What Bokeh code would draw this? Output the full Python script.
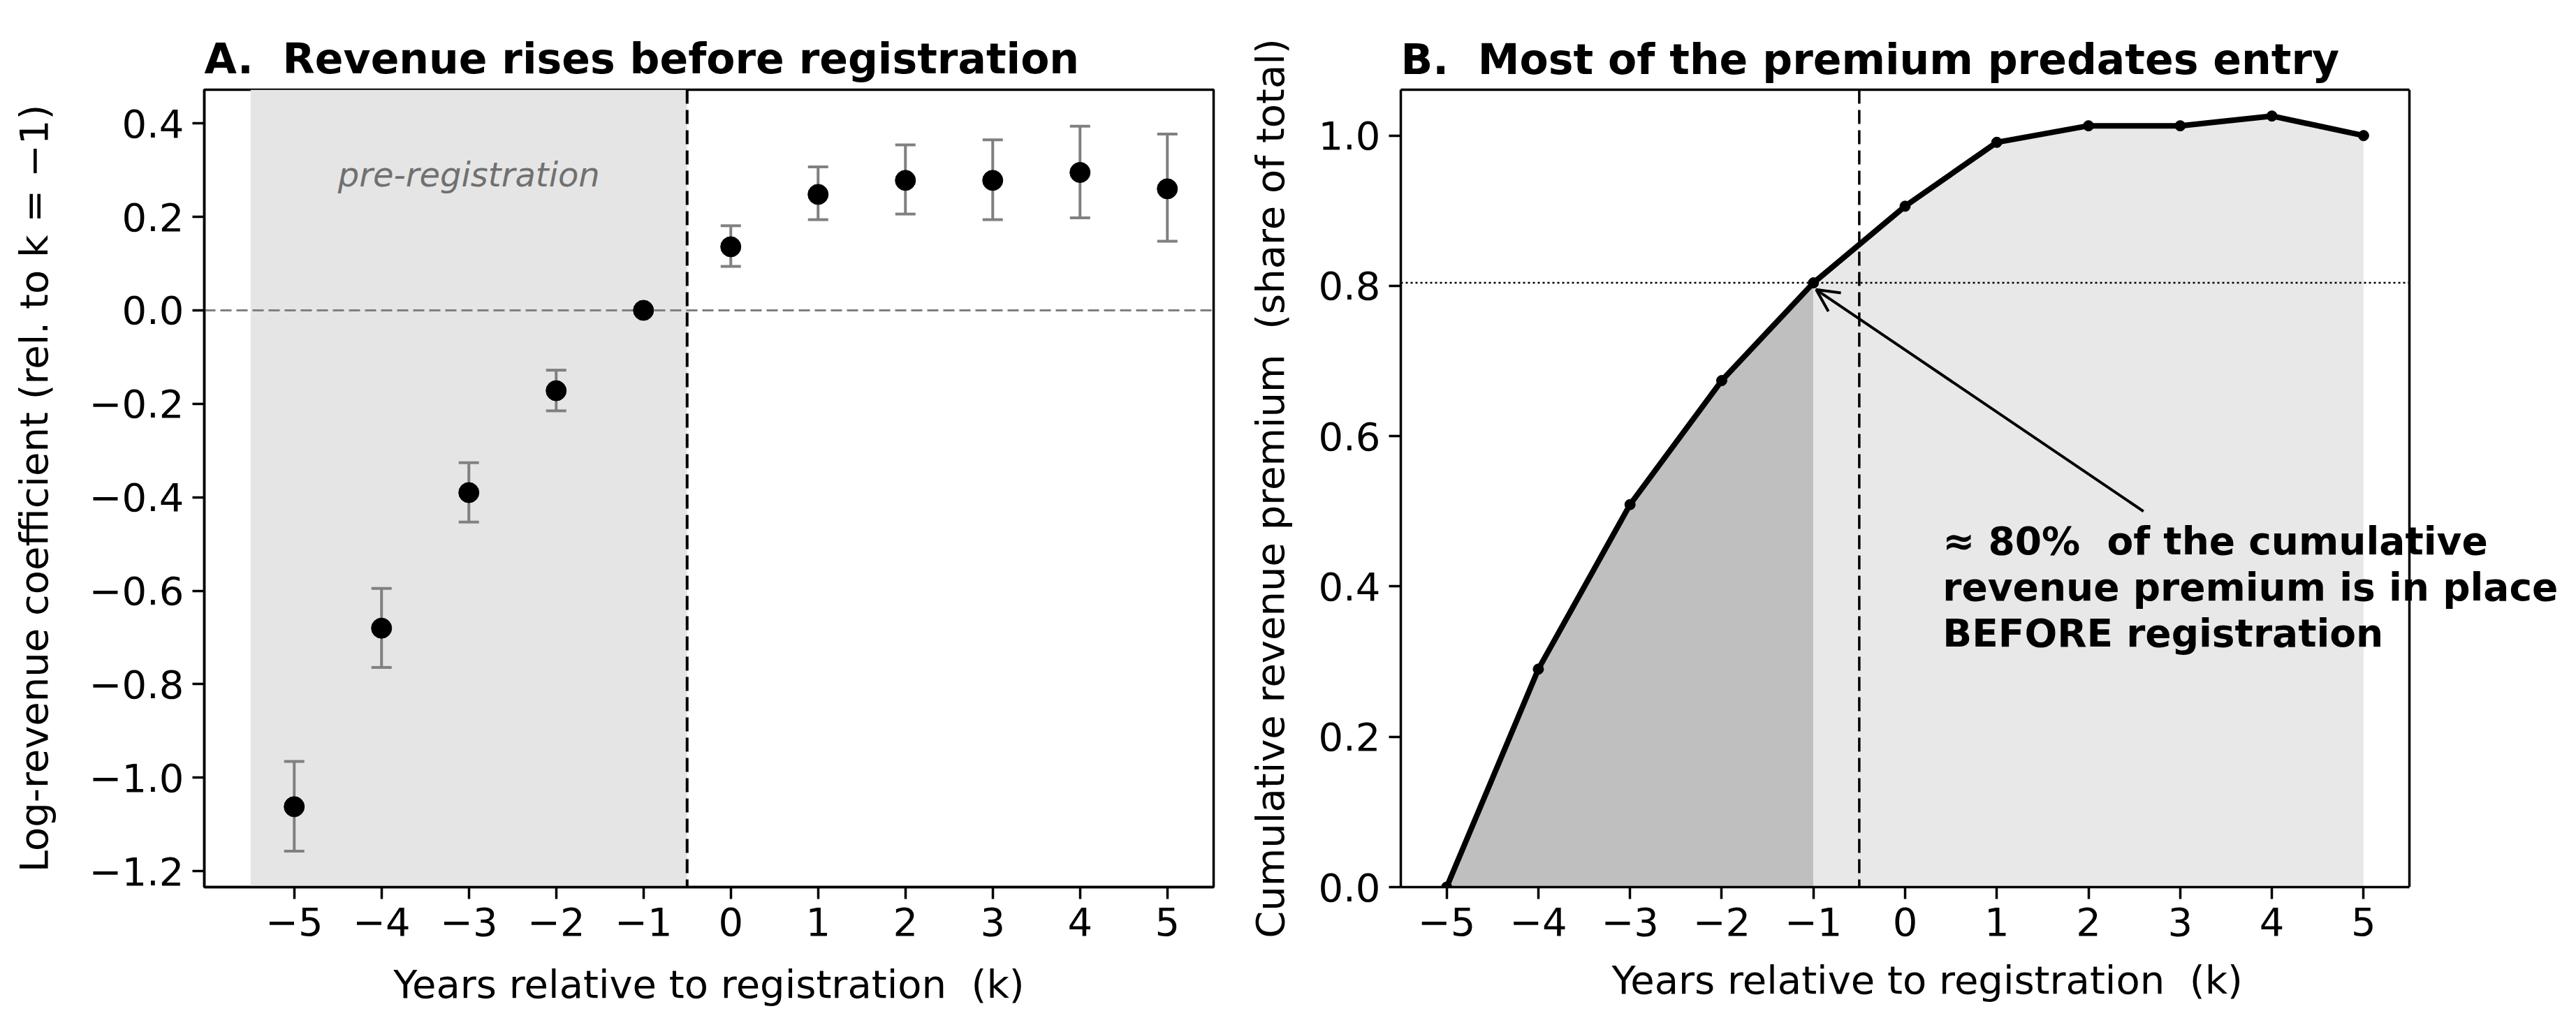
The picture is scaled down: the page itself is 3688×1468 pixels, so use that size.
from bokeh.plotting import figure
from bokeh.layouts import row
from bokeh.models import (BoxAnnotation, Span, Arrow, OpenHead, FixedTicker, LinearAxis,
                          Label, Title, CustomJSTickFormatter, ColumnDataSource)
from bokeh.embed import file_html
from bokeh.resources import INLINE

# Event-study estimates: years relative to registration
k = [-5, -4, -3, -2, -1, 0, 1, 2, 3, 4, 5]
coef = [-1.062, -0.680, -0.390, -0.172, 0.0, 0.136, 0.248, 0.278, 0.278, 0.295, 0.260]
ci_low = [-1.157, -0.764, -0.453, -0.215, None, 0.094, 0.194, 0.206, 0.194, 0.198, 0.148]
ci_high = [-0.965, -0.595, -0.326, -0.128, None, 0.181, 0.307, 0.354, 0.365, 0.394, 0.377]

# Cumulative revenue premium as a share of the total
share = [0.0, 0.290, 0.509, 0.674, 0.804, 0.906, 0.991, 1.013, 1.013, 1.026, 1.000]

x_ticks = [-5, -4, -3, -2, -1, 0, 1, 2, 3, 4, 5]
y_ticks_a = [-1.2, -1.0, -0.8, -0.6, -0.4, -0.2, 0.0, 0.2, 0.4]
y_ticks_b = [0.0, 0.2, 0.4, 0.6, 0.8, 1.0]

FONT = "DejaVu Sans"
FS = "56px"
NB = "\u00a0"  # keeps double spaces visible in SVG text

int_fmt = CustomJSTickFormatter(code="return String(Math.round(tick)).replace('-', '\u2212');")
dec_fmt = CustomJSTickFormatter(code="return tick.toFixed(1).replace('-', '\u2212');")


def style(p, yticks, xlabel, ylabel, title, ylabel_standoff, title_standoff):
    p.grid.visible = False
    p.outline_line_color = "black"
    p.outline_line_width = 3.5
    p.background_fill_color = "white"
    p.border_fill_color = "white"
    p.xaxis.ticker = FixedTicker(ticks=x_ticks)
    p.yaxis.ticker = FixedTicker(ticks=yticks)
    p.xaxis.formatter = int_fmt
    p.yaxis.formatter = dec_fmt
    p.xaxis.axis_label = xlabel
    p.yaxis.axis_label = ylabel
    for ax in (p.xaxis[0], p.yaxis[0]):
        ax.axis_line_width = 3.5
        ax.axis_line_color = "black"
        ax.major_tick_line_width = 3.5
        ax.major_tick_line_color = "black"
        ax.major_tick_out = 17
        ax.major_tick_in = 0
        ax.minor_tick_line_color = None
        ax.major_label_text_font = FONT
        ax.major_label_text_font_size = FS
        ax.major_label_text_color = "black"
        ax.major_label_standoff = 12
        ax.axis_label_text_font = FONT
        ax.axis_label_text_font_size = FS
        ax.axis_label_text_font_style = "normal"
        ax.axis_label_text_color = "black"
    p.xaxis.axis_label_standoff = 34
    p.yaxis.axis_label_standoff = ylabel_standoff
    p.title.text = title
    p.title.text_font = FONT
    p.title.text_font_size = "60px"
    p.title.text_font_style = "bold"
    p.title.align = "left"
    p.title.text_color = "black"
    p.title.standoff = title_standoff


xlabel = "Years relative to registration " + NB + "(k)"

# ---------------- Panel A: event-study coefficients ----------------
pA = figure(width=1780, height=1468, x_range=(-6.03, 5.53), y_range=(-1.234, 0.472),
            output_backend="svg", toolbar_location=None,
            min_border_left=292, min_border_right=43,
            min_border_top=128, min_border_bottom=198)
style(pA, y_ticks_a, xlabel,
      "Log-revenue coefficient (rel. to k = \u22121)",
      "A. " + NB + "Revenue rises before registration", 44, 20)

pA.add_layout(BoxAnnotation(left=-5.5, right=-0.5, fill_color="#e5e5e5", fill_alpha=1.0,
                            line_color=None, level="underlay"))
pA.add_layout(Span(location=0.0, dimension="width", line_color="#808080",
                   line_width=3, line_dash="16 7", level="underlay"))
pA.add_layout(Span(location=-0.5, dimension="height", line_color="black",
                   line_width=4, line_dash="20 9", level="underlay"))

err = ColumnDataSource(dict(
    k=[kk for kk, lo in zip(k, ci_low) if lo is not None],
    lo=[lo for lo in ci_low if lo is not None],
    hi=[hi for hi in ci_high if hi is not None],
))
pA.segment(x0="k", y0="lo", x1="k", y1="hi", source=err, line_color="#808080", line_width=4)
pA.scatter(x="k", y="lo", source=err, marker="dash", size=29, line_color="#808080", line_width=4)
pA.scatter(x="k", y="hi", source=err, marker="dash", size=29, line_color="#808080", line_width=4)
pA.scatter(k, coef, size=29, color="black")

pA.add_layout(Label(x=-3.0, y=0.29, text="pre-registration", text_font=FONT,
                    text_font_size="48px", text_font_style="italic", text_color="#707070",
                    text_align="center", text_baseline="middle"))

# ---------------- Panel B: cumulative premium ----------------
# The data area runs from -5.5 to 5.5; the plot frame is widened to the page edge so
# the annotation may run past the right spine, which is drawn by hand at x = 5.5.
xb_lo, xb_hi = -5.5, 5.5
frame_b_px = 1908 - 225
data_b_px = 1444
xb_right = xb_lo + (xb_hi - xb_lo) * frame_b_px / data_b_px

pB = figure(width=1908, height=1468, x_range=(xb_lo, xb_right), y_range=(0.0, 1.061),
            output_backend="svg", toolbar_location=None,
            min_border_left=225, min_border_right=0,
            min_border_top=128, min_border_bottom=198)
style(pB, y_ticks_b, xlabel,
      "Cumulative revenue premium " + NB + "(share of total)",
      "B. " + NB + "Most of the premium predates entry", 33, 18)
pB.outline_line_color = None
pB.xaxis.bounds = (xb_lo, xb_hi)
pB.xaxis.axis_label = None

# x-axis title centred under the data area rather than the widened frame
xlabel_width_px = 840
pB.add_layout(Title(text=xlabel, align="left", offset=data_b_px / 2 - xlabel_width_px / 2,
                    text_font=FONT, text_font_size=FS, text_font_style="normal",
                    text_color="black", standoff=53), "below")

top_spine = LinearAxis(ticker=FixedTicker(ticks=[]), bounds=(xb_lo, xb_hi),
                       axis_line_width=3.5, axis_line_color="black",
                       major_tick_out=0, major_tick_in=0, minor_tick_line_color=None,
                       major_label_standoff=0, major_label_text_font_size="0px")
pB.add_layout(top_spine, "above")
pB.add_layout(Span(location=xb_hi, dimension="height", line_color="black", line_width=3.5))

pB.varea(x=k[:5], y1=[0.0] * 5, y2=share[:5], fill_color="#bfbfbf")
pB.varea(x=k[4:], y1=[0.0] * 7, y2=share[4:], fill_color="#e8e8e8")
pB.add_layout(Span(location=-0.5, dimension="height", line_color="black",
                   line_width=3.5, line_dash="20 9"))
pB.segment(x0=[xb_lo], y0=[share[4]], x1=[xb_hi], y1=[share[4]],
           line_color="black", line_width=2.5, line_dash="3 4")
pB.line(k, share, line_color="black", line_width=8)
pB.scatter(k, share, size=15, color="black")

pB.add_layout(Arrow(x_start=2.6, y_start=0.50, x_end=-0.97, y_end=0.795,
                    line_color="black", line_width=4,
                    end=OpenHead(size=32, line_width=4, line_color="black")))
pB.add_layout(Label(x=0.41, y=0.49,
                    text="\u2248 80% " + NB + "of the cumulative\nrevenue premium is in place\nBEFORE registration",
                    text_font=FONT, text_font_size="55px", text_font_style="bold",
                    text_color="black", text_align="left", text_baseline="top",
                    text_line_height=1.03))

layout = row(pA, pB)
open("out.html", "w").write(file_html(layout, INLINE))
